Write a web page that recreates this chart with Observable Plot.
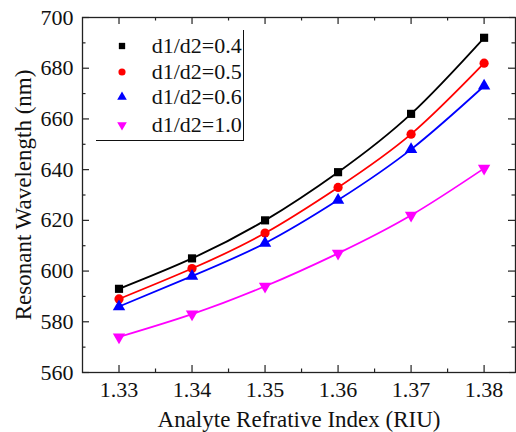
<!DOCTYPE html>
<html><head><meta charset="utf-8">
<script src="https://cdn.jsdelivr.net/npm/d3@7"></script>
<script src="https://cdn.jsdelivr.net/npm/@observablehq/plot@0.6"></script>
<style>
body{margin:0;background:#fff;}
#wrap{position:relative;width:516px;height:432px;background:#fff;}
#wrap svg text{font-family:'Liberation Serif',serif;}
#legend{position:absolute;left:96px;top:30px;width:148px;height:111px;border-right:1px solid #111;border-bottom:1px solid #111;box-sizing:border-box;font-family:'Liberation Serif',serif;font-size:22px;color:#111;}
#legend .lab{position:absolute;line-height:22px;white-space:nowrap;}
#legend svg{position:absolute;overflow:visible;}
</style>
</head><body>
<div id="wrap"><div id="legend"></div></div>
<script>
const xs = [1.33, 1.34, 1.35, 1.36, 1.37, 1.38];
const s04 = [593, 605, 620, 639, 662, 692];
const s05 = [589, 601, 615, 633, 654, 682];
const s06 = [586, 598, 611, 628, 648, 673];
const s10 = [574, 583, 594, 607, 622, 640.5];
const names = ["d1/d2=0.4", "d1/d2=0.5", "d1/d2=0.6", "d1/d2=1.0"];
const colors = ["#000000", "#ff0000", "#0000ff", "#ff00ff"];
const symbols = ["square", "circle", "triangle", "triangle"];
const xMajor = [1.33, 1.34, 1.35, 1.36, 1.37, 1.38];
const xMinor = [1.335, 1.345, 1.355, 1.365, 1.375];
const yMajor = [560, 580, 600, 620, 640, 660, 680, 700];
const yMinor = [570, 590, 610, 630, 650, 670, 690];

const series = [s04, s05, s06, s10];
const data = [];
series.forEach((vals, i) => vals.forEach((v, j) => data.push({x: xs[j], y: v, s: names[i]})));

const W = 516, H = 432, mL = 82, mR = 1, mT = 17, mB = 60;
const iW = W - mL - mR, iH = H - mT - mB;
const font = "Liberation Serif";
const tc = "#111";

const plot = Plot.plot({
  width: W, height: H,
  marginLeft: mL, marginRight: mR, marginTop: mT, marginBottom: mB,
  style: {fontFamily: font, fontSize: "22px", color: tc, background: "#fff", overflow: "visible"},
  x: {domain: [1.325, 1.3843]},
  y: {domain: [560, 700]},
  color: {domain: names, range: colors},
  symbol: {domain: names, range: symbols},
  marks: [
    Plot.line(data, {x: "x", y: "y", z: "s", stroke: "s", curve: "natural", strokeWidth: 1.8}),
    Plot.dot(data, {x: "x", y: "y", symbol: "s", fill: "s", r: 4.6, rotate: d => d.s === names[3] ? 180 : 0}),
    Plot.tickX(xMajor, {x: d => d, insetTop: iH - 7, stroke: "#222", strokeWidth: 1.2}),
    Plot.tickX(xMinor, {x: d => d, insetTop: iH - 3.5, stroke: "#222", strokeWidth: 1.2}),
    Plot.tickX(xMajor, {x: d => d, insetBottom: iH - 7, stroke: "#222", strokeWidth: 1.2}),
    Plot.tickX(xMinor, {x: d => d, insetBottom: iH - 3.5, stroke: "#222", strokeWidth: 1.2}),
    Plot.tickY(yMajor, {y: d => d, insetRight: iW - 7, stroke: "#222", strokeWidth: 1.2}),
    Plot.tickY(yMinor, {y: d => d, insetRight: iW - 3.5, stroke: "#222", strokeWidth: 1.2}),
    Plot.tickY(yMajor, {y: d => d, insetLeft: iW - 7, stroke: "#222", strokeWidth: 1.2}),
    Plot.tickY(yMinor, {y: d => d, insetLeft: iW - 3.5, stroke: "#222", strokeWidth: 1.2}),
    Plot.axisX({ticks: xMajor, tickSize: 0, tickPadding: 9, tickFormat: d3.format(".2f"), fontSize: 22, label: null}),
    Plot.axisX({ticks: [], tickSize: 0, fontSize: 23,
      label: "Analyte Refrative Index (RIU)", labelAnchor: "center", labelArrow: "none", labelOffset: 54}),
    Plot.axisY({ticks: yMajor, tickSize: 0, tickPadding: 9, fontSize: 22, label: null}),
    Plot.axisY({ticks: [], tickSize: 0, fontSize: 23,
      label: "Resonant Wavelength (nm)", labelAnchor: "center", labelArrow: "none", labelOffset: 67.5}),
    Plot.frame({stroke: "#222", strokeWidth: 1.3})
  ]
});
const wrap = document.getElementById("wrap");
wrap.insertBefore(plot, wrap.firstChild);

const leg = document.getElementById("legend");
const rowY = [15.7, 41.7, 67, 95];
const symMap = {square: d3.symbolSquare, circle: d3.symbolCircle, triangle: d3.symbolTriangle};
names.forEach((n, i) => {
  const cy = rowY[i];
  const svg = d3.create("svg").attr("width", 12).attr("height", 12)
    .style("left", (25.7 - 6) + "px").style("top", (cy - 6) + "px");
  svg.append("path")
    .attr("d", d3.symbol(symMap[symbols[i]], 40)())
    .attr("fill", colors[i])
    .attr("transform", `translate(6,6) rotate(${i === 3 ? 180 : 0})`);
  leg.appendChild(svg.node());
  const lab = document.createElement("div");
  lab.className = "lab";
  lab.textContent = n;
  lab.style.left = "55.7px";
  lab.style.top = (cy - 11.2) + "px";
  leg.appendChild(lab);
});
</script>
</body></html>
